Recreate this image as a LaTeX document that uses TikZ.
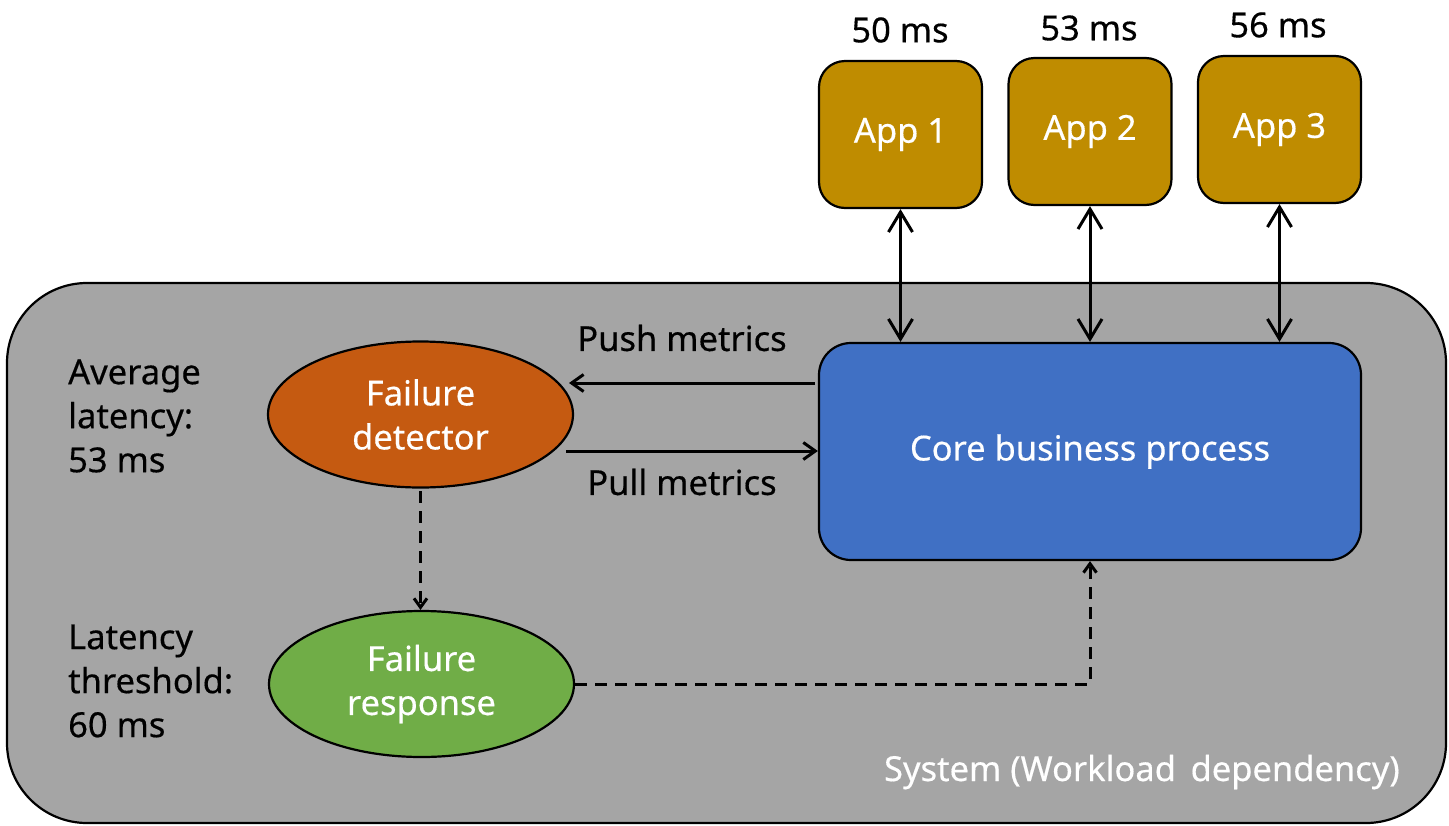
\documentclass[tikz,border=0pt]{standalone}
\usepackage{fontspec}
\setmainfont{Noto Sans}[FakeBold=0.4]
\usetikzlibrary{shapes.geometric,arrows.meta}
\definecolor{sysgray}{RGB}{165,165,165}
\definecolor{appgold}{RGB}{191,140,0}
\definecolor{coreblue}{RGB}{64,112,196}
\definecolor{detorange}{RGB}{197,90,17}
\definecolor{respgreen}{RGB}{112,173,71}
\tikzset{
  txt/.style={font=\fontsize{34.5}{44}\selectfont, inner sep=0pt},
  wtxt/.style={txt, text=white},
  appbox/.style={draw=black, line width=2.2pt, fill=appgold, rounded corners=26pt,
    minimum width=163pt, minimum height=147pt, wtxt},
  corebox/.style={draw=black, line width=2.2pt, fill=coreblue, rounded corners=32pt,
    minimum width=542pt, minimum height=217pt, wtxt},
  oval/.style={ellipse, draw=black, line width=2.2pt, minimum width=305pt,
    minimum height=146pt, wtxt, align=center},
  bigarrow/.style={line width=3pt, {Straight Barb[length=20pt,width=24pt,line width=3pt]}-{Straight Barb[length=20pt,width=24pt,line width=3pt]}},
  midarrow/.style={line width=3pt, -{Straight Barb[length=12pt,width=17pt,line width=3pt]}},
  dasharrow/.style={line width=3pt, dash pattern=on 12pt off 8pt, -{Straight Barb[length=9pt,width=13pt,line width=3pt]}},
}
\begin{document}
\begin{tikzpicture}[x=1pt,y=-1pt]
\useasboundingbox (0,0) rectangle (1449,825);
% system
\draw[line width=2.2pt, fill=sysgray, rounded corners=80pt] (7,283) rectangle (1446,823);
\node[wtxt, anchor=base east] (sys) at (1400,781) {System (Workload\ \,dependency)};
% apps
\node[appbox] (app1) at (900.5,134.5) {App 1};
\node[appbox] (app2) at (1090,131.5) {App 2};
\node[appbox] (app3) at (1279.5,129.5) {App 3};
\node[txt] (l1) at (900,30) {50 ms};
\node[txt] (l2) at (1089,28) {53 ms};
\node[txt] (l3) at (1278,25) {56 ms};
% core
\node[corebox] (core) at (1090,451.5) {Core business process};
% ellipses
\node[oval, fill=detorange] (det) at (420.5,414.5) {Failure\\detector};
\node[oval, fill=respgreen] (resp) at (421.5,684) {Failure\\response};
% left labels
\node[txt, anchor=west, align=left] (avg) at (68,416) {Average\\latency:\\53 ms};
\node[txt, anchor=west, align=left] (thr) at (68,681) {Latency\\threshold:\\60 ms};
% vertical arrows
\draw[bigarrow] (app1.south) -- (app1.south |- core.north);
\draw[bigarrow] (app2.south) -- (app2.south |- core.north);
\draw[bigarrow] (app3.south) -- (app3.south |- core.north);
% push / pull
\coordinate (pushs) at (815,383);
\coordinate (pulls) at (566,451);
\draw[midarrow] (pushs) -- (569,383);
\draw[midarrow] (pulls) -- (core.west |- pulls);
\node[txt] (push) at (682,338) {Push metrics};
\node[txt] (pull) at (682,482) {Pull metrics};
% dashed
\draw[dasharrow] (det.south |- 0,491) -- (det.south |- resp.north);
\draw[dasharrow] (resp.east) -| (core.south -| 1090,0);
\end{tikzpicture}
\end{document}
